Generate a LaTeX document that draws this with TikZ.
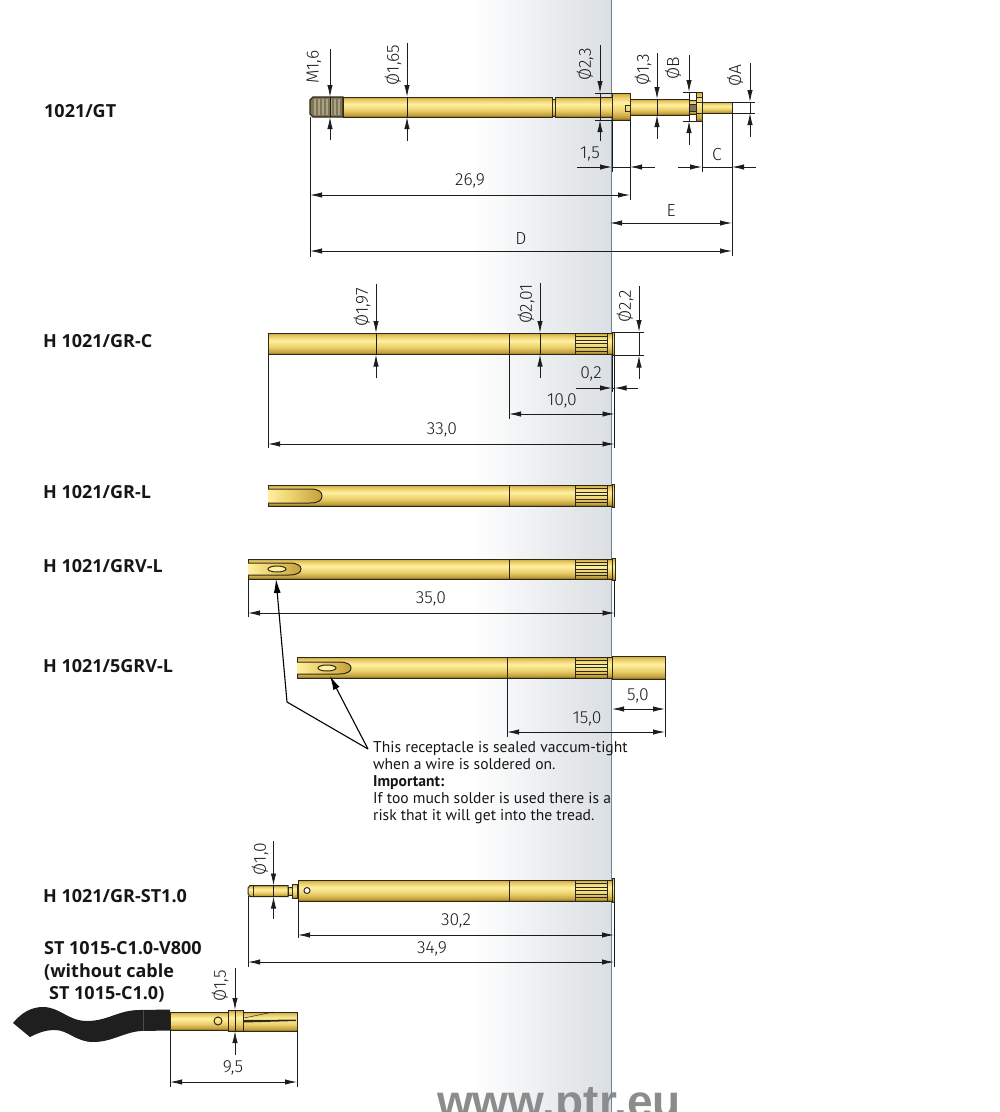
\documentclass[tikz,border=0pt]{standalone}
\usepackage{fontspec}
\setmainfont{Open Sans}
\newfontfamily\dimfont{Fira Sans Light}
\newfontfamily\wmfont{Liberation Sans}
\newfontfamily\notefont{PT Sans}
\usetikzlibrary{arrows.meta}
\definecolor{gT}{HTML}{C9A53E}
\definecolor{gA}{HTML}{E9CC66}
\definecolor{gL}{HTML}{FFF0A0}
\definecolor{gM}{HTML}{EBCF6A}
\definecolor{gD}{HTML}{C2A03C}
\definecolor{gB}{HTML}{7A6020}
\definecolor{partedge}{HTML}{2E2818}
\definecolor{dimc}{HTML}{1C1C1C}
\definecolor{bandc}{HTML}{DADFE3}
\definecolor{bandline}{HTML}{77838A}
\definecolor{wmc}{HTML}{8C8C8C}
\definecolor{txtc}{HTML}{161616}
\definecolor{threadc}{HTML}{7E7558}
\definecolor{threadl}{HTML}{ABA280}
\pgfdeclareverticalshading{goldv}{100bp}{color(0bp)=(gB); color(25bp)=(gB); color(30bp)=(gD); color(42bp)=(gM); color(57bp)=(gL); color(68bp)=(gA); color(75bp)=(gT); color(100bp)=(gT)}
\tikzset{
  part/.style={shade,shading=goldv,draw=partedge,line width=1pt},
  partline/.style={draw=partedge,line width=0.8pt},
  slotpart/.style={left color=gL,right color=gD,middle color=gA,draw=partedge,line width=1pt},
  holepart/.style={draw=partedge,line width=1pt,fill=gL},
  knurlline/.style={draw=partedge,line width=0.8pt},
  dimline/.style={draw=dimc,line width=0.85pt},
  dimarrow/.style={draw=dimc,line width=0.85pt,-{Latex[length=12pt,width=5.4pt]}},
  dimboth/.style={draw=dimc,line width=0.85pt,{Latex[length=12pt,width=5.4pt]}-{Latex[length=12pt,width=5.4pt]}},
  leader/.style={draw=black,line width=1.1pt,-{Latex[length=14pt,width=7pt]}},
  dimtxt/.style={font=\dimfont\fontsize{17.5}{18}\selectfont,text=dimc,inner sep=0pt,yshift=-1.5pt},
  rottxt/.style={font=\dimfont\fontsize{17.5}{18}\selectfont,text=dimc,inner sep=0pt,rotate=90,xshift=1pt},
  nametxt/.style={font=\bfseries\fontsize{18}{20}\selectfont,text=txtc,inner sep=0pt,anchor=west},
  notetxt/.style={font=\notefont\fontsize{15.6}{16.9}\selectfont,text=txtc,inner sep=0pt,anchor=north west,align=left},
}
% vertical dimension: x, top, y1, y2, bottom
\newcommand{\dimv}[5]{%
  \draw[dimarrow] (#1,#2)--(#1,#3);
  \draw[dimline] (#1,#3)--(#1,#4);
  \draw[dimarrow] (#1,#5)--(#1,#4);}
% outside arrows: y, left end, x1, x2, right end
\newcommand{\dimo}[5]{%
  \draw[dimarrow] (#2,#1)--(#3,#1);
  \draw[dimline] (#3,#1)--(#4,#1);
  \draw[dimarrow] (#5,#1)--(#4,#1);}
\newcommand{\dimh}[3]{\draw[dimboth] (#2,#1)--(#3,#1);}
\newcommand{\ext}[3]{\draw[dimline] (#1,#2)--(#1,#3);}
\newcommand{\exth}[3]{\draw[dimline] (#2,#1)--(#3,#1);}
% knurled zone
\newcommand{\knurl}[4]{%
  \path[part] (#1,#2) rectangle (#3,#4);
  \foreach \k in {1,...,5}{\draw[knurlline] (#1,{#2+(#4-#2)*\k/6})--(#3,{#2+(#4-#2)*\k/6});}}
% receptacle: x1,xsec,y1,y2,cap top,cap bottom,xcap
\newcommand{\recept}[7]{%
  \path[part] (#1,#3) rectangle (#2,#4);
  \path[part] (#2,#3) rectangle (575,#4);
  \knurl{575}{#3}{607}{#4}
  \path[part] (607,#3) rectangle (612,#4);
  \path[part] (612,#5) rectangle (#7,#6);}
% solder slot: x1,x2,y1,y2
\newcommand{\slotcut}[4]{%
  \path[slotpart] (#1,#3)--({#2-12},#3) .. controls ({#2-3},#3) and (#2,{#3+3}) .. (#2,{(#3+#4)/2}) .. controls (#2,{#4-3}) and ({#2-3},#4) .. ({#2-12},#4)--(#1,#4);}
\begin{document}
\begin{tikzpicture}[x=1pt,y=-1pt]
\useasboundingbox (0,0) rectangle (1000,1112);
\clip (0,0) rectangle (1000,1112);
\fill[white] (0,0) rectangle (1000,1112);
% background band
\fill[left color=white,right color=bandc] (472,0) rectangle (611,1112);
\node[font=\wmfont\bfseries\fontsize{46}{47}\selectfont,text=wmc,anchor=base,inner sep=0pt] (wm) at (559,1117) {www.ptr.eu};
\draw[bandline,line width=1pt] (611,0)--(611,1112);

% ---------- 1021/GT
\node[nametxt] (n1) at (44,111) {1021/GT};
\path[draw=partedge,line width=1.2pt,fill=threadc] (313,97)--(343,97)--(343,117)--(313,117)--(310,114)--(310,100)--cycle;
\foreach \q in {315,319,...,342}{\draw[threadl,line width=1.3pt] (\q,99)--(\q,115);}
\path[part] (343,97) rectangle (552,117);
\path[part] (552,99) rectangle (555,116);
\path[part] (555,97) rectangle (612,117);
\path[part] (612,93) rectangle (630,120);
\path[part] (630,99) rectangle (689,115);
\path[part] (689,100) rectangle (696,114);
\fill[threadc] (690,104) rectangle (696,111);
\path[part] (696,92) rectangle (702,121);
\draw[partline] (689,104)--(696,104) (689,111)--(696,111) (696,97)--(702,97) (696,102)--(702,102) (696,113)--(702,113);
\path[part] (702,102) rectangle (732,113);
\draw[partline] (630,105)--(625,105)--(625,111)--(630,111);

\dimv{330}{49}{97}{117}{140}
\dimv{407}{43}{97}{117}{141}
\dimv{600}{45}{93}{120}{141}
\dimv{657}{53}{99}{115}{139}
\dimv{689}{55}{92}{121}{145}
\dimv{750}{63}{102}{113}{137}
\exth{93}{595}{612}\exth{120}{595}{612}
\exth{92}{683}{696}\exth{121}{683}{696}
\exth{102}{732}{755}\exth{113}{732}{755}
\ext{310}{117}{257}
\ext{612}{120}{172}
\ext{630}{120}{200}
\ext{702}{121}{172}
\ext{732}{113}{256}
\dimo{167}{577}{612}{630}{655}
\dimo{167}{678}{702}{732}{756}
\dimh{195}{310}{630}
\dimh{223}{610}{732}
\dimh{251}{310}{732}
\node[rottxt] (t1) at (314,68) {M1,6};
\node[rottxt] (t2) at (393,66) {Ø1,65};
\node[rottxt] (t3) at (585,65) {Ø2,3};
\node[rottxt] (t4) at (643,71) {Ø1,3};
\node[rottxt] (t5) at (673,69) {ØB};
\node[rottxt] (t6) at (735,77) {ØA};
\node[dimtxt] (t7) at (590,152) {1,5};
\node[dimtxt] (t8) at (717,153) {C};
\node[dimtxt] (t9) at (470,179) {26,9};
\node[dimtxt] (t10) at (671,209) {E};
\node[dimtxt] (t11) at (521,237) {D};

% ---------- H 1021/GR-C
\node[nametxt] (n2) at (43,341) {H 1021/GR-C};
\recept{268}{509}{333}{354.5}{332}{355.5}{614.5}
\dimv{376}{284}{333}{354.5}{378}
\dimv{540}{283}{333}{354.5}{378}
\dimv{639}{286}{332}{355.5}{379}
\exth{332}{612}{644}\exth{355.5}{612}{644}
\ext{268}{354}{448}
\ext{509}{354}{419}
\ext{614.5}{355}{448}
\ext{612}{355}{392}
\dimo{388}{576}{612}{614.5}{638}
\dimh{414}{509}{614.5}
\dimh{444}{268}{614.5}
\node[rottxt] (t12) at (362,308) {Ø1,97};
\node[rottxt] (t13) at (526,305) {Ø2,01};
\node[rottxt] (t14) at (625,307) {Ø2,2};
\node[dimtxt] (t15) at (591,372) {0,2};
\node[dimtxt] (t16) at (562,399) {10,0};
\node[dimtxt] (t17) at (442,428) {33,0};

% ---------- H 1021/GR-L
\node[nametxt] (n3) at (43,492) {H 1021/GR-L};
\recept{268}{509}{485}{506}{484}{507}{614.5}
\slotcut{268}{322}{489}{503}

% ---------- H 1021/GRV-L
\node[nametxt] (n4) at (43,566) {H 1021/GRV-L};
\recept{248}{509}{559}{579}{558}{580}{615}
\slotcut{248}{301}{563}{575}
\draw[holepart] (277,569) ellipse (9 and 3);
\ext{248}{579}{617}
\ext{614.5}{580}{617}
\dimh{613}{248}{614.5}
\node[dimtxt] (t18) at (431,597) {35,0};

% ---------- H 1021/5GRV-L
\node[nametxt] (n5) at (43,666) {H 1021/5GRV-L};
\path[part] (612,656) rectangle (665,679);
\recept{297}{507}{657}{678}{656}{679}{612}
\slotcut{297}{351}{662}{674}
\draw[holepart] (327,668) ellipse (9 and 3);
\ext{507}{678}{737}
\ext{665}{679}{737}
\dimh{709}{612}{665}
\dimh{732}{507}{665}
\node[dimtxt] (t19) at (638,694) {5,0};
\node[dimtxt] (t20) at (587,717) {15,0};

% note and leaders
\coordinate (nt) at (368,749);
\coordinate (knee) at (287,702);
\coordinate (h1) at (276,579);
\coordinate (h2) at (330,676);
\draw[draw=black,line width=1.1pt] (nt)--(knee);
\draw[leader] (knee)--(h1);
\draw[leader] (nt)--(h2);
\node[notetxt] (note) at (373,741.5) {This receptacle is sealed vaccum-tight\\when a wire is soldered on.\\{\bfseries Important:}\\If too much solder is used there is a\\risk that it will get into the tread.};

% ---------- H 1021/GR-ST1.0
\node[nametxt] (n6) at (43,896) {H 1021/GR-ST1.0};
\path[part] (250,885.5)--(288,885.5)--(288,896.5)--(250,896.5)--(248,894)--(248,888)--cycle;
\draw[partline] (253,885.5)--(253,896.5);
\path[part] (288,887) rectangle (292,895.5);
\path[part] (292,884) rectangle (297,898);
\recept{298}{509}{880}{901}{878}{902}{614}
\draw[holepart,fill=white] (307,890.5) circle (3);
\dimv{273.5}{841}{885.5}{896.5}{919}
\ext{248}{896}{967}
\ext{298}{901}{938}
\ext{614}{902}{967}
\dimh{935}{298}{614}
\dimh{962}{248}{614}
\node[rottxt] (t21) at (260,860) {Ø1,0};
\node[dimtxt] (t22) at (456,919) {30,2};
\node[dimtxt] (t23) at (432,947) {34,9};

% ---------- ST 1015
\node[nametxt] (n7) at (44,948) {ST 1015-C1.0-V800};
\node[nametxt] (n8) at (44,972) {(without cable};
\node[nametxt] (n9) at (49,994) {ST 1015-C1.0)};
\fill[black!88] (13,1023) .. controls (22,1012) and (32,1007) .. (43,1007)
  .. controls (60,1007) and (68,1021) .. (87,1021)
  .. controls (108,1021) and (118,1010) .. (140,1010) -- (170,1009.5) -- (170,1030.5) -- (140,1031)
  .. controls (122,1033) and (112,1042) .. (93,1042)
  .. controls (76,1042) and (68,1030) .. (55,1030)
  .. controls (45,1030) and (38,1033) .. (30,1037) -- cycle;
\draw[gray!60!black,line width=.6pt] (143,1010)--(143,1031);
\path[part] (170,1012) rectangle (228,1030);
\path[part] (243,1012) rectangle (297,1031);
\fill[partedge] (244,1020)--(296,1019.6)--(296,1021)--(244,1022.5)--cycle;
\draw[draw=partedge,line width=.5pt] (244,1018)--(273,1012);
\path[part] (228,1010) rectangle (243,1031);
\draw[partline,fill=none,line width=1pt] (218,1021) circle (4);
\dimv{235}{968}{1010}{1031}{1055}
\ext{170}{1030}{1087}
\ext{297}{1031}{1087}
\dimh{1082}{170}{297}
\node[rottxt] (t24) at (220,987) {Ø1,5};
\node[dimtxt] (t25) at (233,1066) {9,5};
\end{tikzpicture}
\end{document}
